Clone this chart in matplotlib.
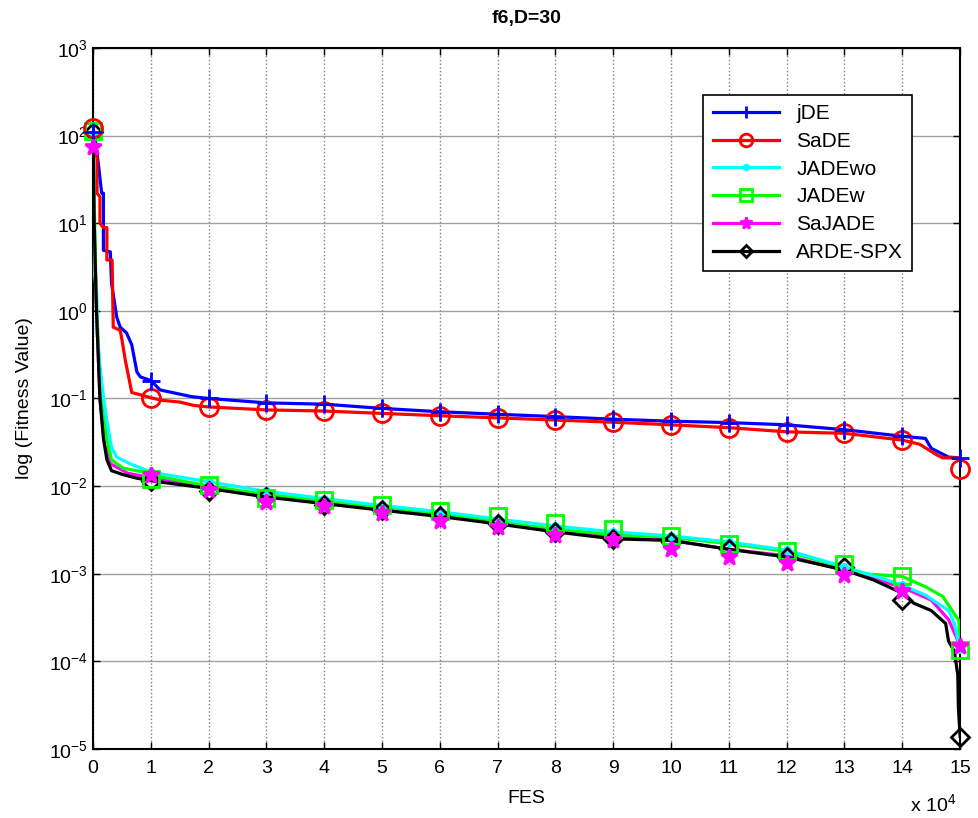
import matplotlib
matplotlib.use("Agg")
import matplotlib.pyplot as plt
from matplotlib.lines import Line2D

plt.rcParams['font.family'] = ['Liberation Sans', 'DejaVu Sans']
plt.rcParams['mathtext.default'] = 'regular'

# FES in units of 1e4
marker_fes = list(range(16))

# jDE
jde_x = [0, 0.04, 0.09, 0.15, 0.18, 0.18, 0.30, 0.32, 0.41, 0.47, 0.58, 0.67, 0.76, 0.82,
         1.0, 1.16, 1.7, 2, 3, 4, 5, 6, 7, 8, 9, 10, 11, 12, 13, 14, 14.4, 14.5, 14.8, 15]
jde_y = [110, 90, 49, 22, 22, 4.9, 4.7, 2.07, 0.85, 0.65, 0.56, 0.41, 0.2, 0.176,
         0.16, 0.125, 0.105, 0.10, 0.089, 0.086, 0.077, 0.0705, 0.066, 0.062, 0.058,
         0.055, 0.053, 0.050, 0.044, 0.037, 0.035, 0.027, 0.0214, 0.021]
jde_m = [110, 0.16, 0.10, 0.089, 0.086, 0.077, 0.0705, 0.066, 0.062, 0.058,
         0.055, 0.053, 0.050, 0.044, 0.037, 0.021]

# SaDE
sade_x = [0, 0.07, 0.07, 0.12, 0.12, 0.18, 0.24, 0.24, 0.33, 0.35, 0.47, 0.50, 0.56, 0.61,
          0.67, 0.82, 1.0, 1.2, 1.5, 1.75, 2, 3, 4, 5, 6, 7, 8, 9, 10, 11, 12, 13, 14,
          14.3, 14.6, 14.7, 15]
sade_y = [120, 53, 22, 20, 10, 8.9, 8.9, 3.8, 3.8, 0.65, 0.6, 0.47, 0.27, 0.185,
          0.117, 0.11, 0.102, 0.095, 0.091, 0.083, 0.080, 0.074, 0.0718, 0.0675, 0.0635,
          0.060, 0.0567, 0.0535, 0.050, 0.0464, 0.0416, 0.040, 0.0335, 0.030, 0.0226,
          0.021, 0.021]
sade_m = [123, 0.100, 0.080, 0.074, 0.0718, 0.0675, 0.0635, 0.060, 0.0567, 0.0535,
          0.050, 0.0464, 0.0416, 0.040, 0.0335, 0.0156]

# JADEwo
jadewo_x = [0, 0.005, 0.01, 0.064, 0.07, 0.12, 0.18, 0.24, 0.32, 0.41, 0.64, 0.93,
            1, 2, 3, 4, 5, 6, 7, 8, 9, 10, 11, 12, 13, 13.5, 14, 14.4, 14.8, 14.9, 14.97, 15]
jadewo_y = [100, 83, 3.2, 1.6, 0.56, 0.23, 0.105, 0.056, 0.028, 0.0214, 0.018, 0.0151,
            0.0144, 0.0112, 0.0087, 0.0072, 0.0060, 0.0051, 0.0042, 0.0035, 0.0030,
            0.0027, 0.0023, 0.00186, 0.0012, 0.00095, 0.00074, 0.00057, 0.00038,
            0.00027, 0.00017, 0.000135]
jadewo_m = [100, 0.0144, 0.0112, 0.0087, 0.0072, 0.0060, 0.0051, 0.0042, 0.0035, 0.0030,
            0.0027, 0.0023, 0.00186, 0.0012, 0.00074, 0.00014]

# JADEw
jadew_x = [0, 0.02, 0.05, 0.10, 0.15, 0.24, 0.32, 0.52, 0.87, 1, 2, 3, 4, 5, 6, 7, 8, 9,
           10, 11, 12, 13, 13.3, 14, 14.4, 14.7, 14.98, 15]
jadew_y = [113, 20, 2, 0.3, 0.1, 0.034, 0.02, 0.016, 0.0145, 0.0134, 0.010, 0.0080,
           0.0068, 0.0057, 0.0049, 0.0039, 0.0032, 0.0028, 0.0026, 0.0022, 0.0018,
           0.00116, 0.001, 0.00093, 0.00071, 0.00055, 0.00029, 0.000145]
jadew_m = [113, 0.012, 0.0103, 0.0073, 0.0070, 0.0061, 0.0052, 0.0045, 0.0038, 0.0032,
           0.0027, 0.0022, 0.0018, 0.0013, 0.00093, 0.000135]

# SaJADE
sajade_x = [0, 0.02, 0.06, 0.12, 0.2, 0.3, 0.6, 1, 2, 3, 4, 5, 6, 7, 8, 9, 10, 11, 12, 13,
            14, 14.5, 14.8, 15]
sajade_y = [74, 10, 1, 0.1, 0.03, 0.018, 0.014, 0.0125, 0.0095, 0.0076, 0.0064, 0.0054,
            0.0046, 0.0038, 0.0031, 0.0026, 0.0024, 0.0019, 0.0016, 0.0011, 0.0007,
            0.0005, 0.0003, 0.00015]
sajade_m = [74, 0.0134, 0.0090, 0.0066, 0.0060, 0.0049, 0.0040, 0.0034, 0.0028, 0.0024,
            0.0019, 0.00155, 0.00131, 0.00096, 0.00064, 0.00015]

# ARDE-SPX
arde_x = [0, 0.02, 0.06, 0.12, 0.18, 0.24, 0.32, 0.52, 0.76, 1, 2, 3, 4, 5, 6, 7, 8, 9,
          10, 11, 12, 13, 13.5, 14, 14.2, 14.5, 14.75, 14.8, 14.9, 14.96, 14.97, 15]
arde_y = [110, 10, 1, 0.1, 0.035, 0.02, 0.015, 0.0135, 0.0123, 0.0115, 0.0094, 0.0075,
          0.0063, 0.0053, 0.0045, 0.0037, 0.0030, 0.0025, 0.0024, 0.0019, 0.00155,
          0.0011, 0.00085, 0.0006, 0.00046, 0.00038, 0.00027, 0.00017, 0.00013,
          7e-5, 3e-5, 1.4e-5]
arde_m = [110, 0.0113, 0.0087, 0.0075, 0.0061, 0.0053, 0.0045, 0.0037, 0.0030, 0.0025,
          0.0023, 0.0019, 0.00155, 0.0012, 0.0005, 1.38e-5]

series = [
    ('jDE', jde_x, jde_y, jde_m, 'blue', '+'),
    ('SaDE', sade_x, sade_y, sade_m, 'red', 'o'),
    ('JADEwo', jadewo_x, jadewo_y, jadewo_m, 'cyan', '.'),
    ('JADEw', jadew_x, jadew_y, jadew_m, 'lime', 's'),
    ('SaJADE', sajade_x, sajade_y, sajade_m, 'magenta', '*'),
    ('ARDE-SPX', arde_x, arde_y, arde_m, 'black', 'D'),
]
msize = {'+': 13, 'o': 13, '.': 9, 's': 12, '*': 12, 'D': 9}
line_z = {'jDE': 3, 'SaDE': 3, 'JADEwo': 4, 'JADEw': 3.5, 'SaJADE': 2, 'ARDE-SPX': 5}
mark_z = {'jDE': 6.5, 'SaDE': 6.4, 'JADEwo': 6.1, 'JADEw': 6.3, 'SaJADE': 6.6, 'ARDE-SPX': 6.2}

fig = plt.figure(figsize=(9.79, 8.18), dpi=100)
ax = fig.add_axes([0.095, 0.0844, 0.8857, 0.857])

handles = []
for name, xs, ys, ms, col, mk in series:
    ax.plot(xs, ys, color=col, lw=2.3, zorder=line_z[name])
    filled = mk in ('+', '.', '*')
    ax.plot(marker_fes, ms, ls='none', marker=mk, ms=msize[mk], mew=2,
            mec=col, mfc=col if filled else 'none', zorder=mark_z[name], clip_on=False)
    handles.append(Line2D([], [], color=col, lw=2.3, marker=mk,
                          ms=msize[mk] * 0.7, mew=2, mec=col,
                          mfc=col if filled else 'none'))

ax.set_yscale('log')
ax.set_xlim(0, 15)
ax.set_ylim(1e-5, 1e3)
ax.set_xticks(range(16))
ax.set_yticks([10.0 ** k for k in range(-5, 4)])
ax.minorticks_off()
ax.tick_params(direction='in', top=True, right=True, labelsize=14, length=5, width=1)
ax.tick_params(axis='x', pad=8)
ax.grid(True, axis='x', color='#808080', ls=':', lw=1)
ax.grid(True, axis='y', color='#a0a0a0', ls='-', lw=1)
for sp in ax.spines.values():
    sp.set_linewidth(1.5)

ax.set_title('f6,D=30', fontsize=14, fontweight='bold', pad=18)
ax.set_xlabel('FES', fontsize=14, labelpad=9)
ax.set_ylabel('log (Fitness Value)', fontsize=14, labelpad=12)
fig.text(0.953, 0.003, r'x 10$^{4}$', fontsize=14, ha='center', va='bottom')

leg = ax.legend(handles, [s[0] for s in series], loc='upper right',
                bbox_to_anchor=(0.957, 0.948), fontsize=15, handlelength=3.2,
                labelspacing=0.42, borderpad=0.45, fancybox=False, framealpha=1,
                edgecolor='black')
leg.get_frame().set_linewidth(1.2)
leg.set_zorder(10)

fig.savefig('out.png', dpi=100)
